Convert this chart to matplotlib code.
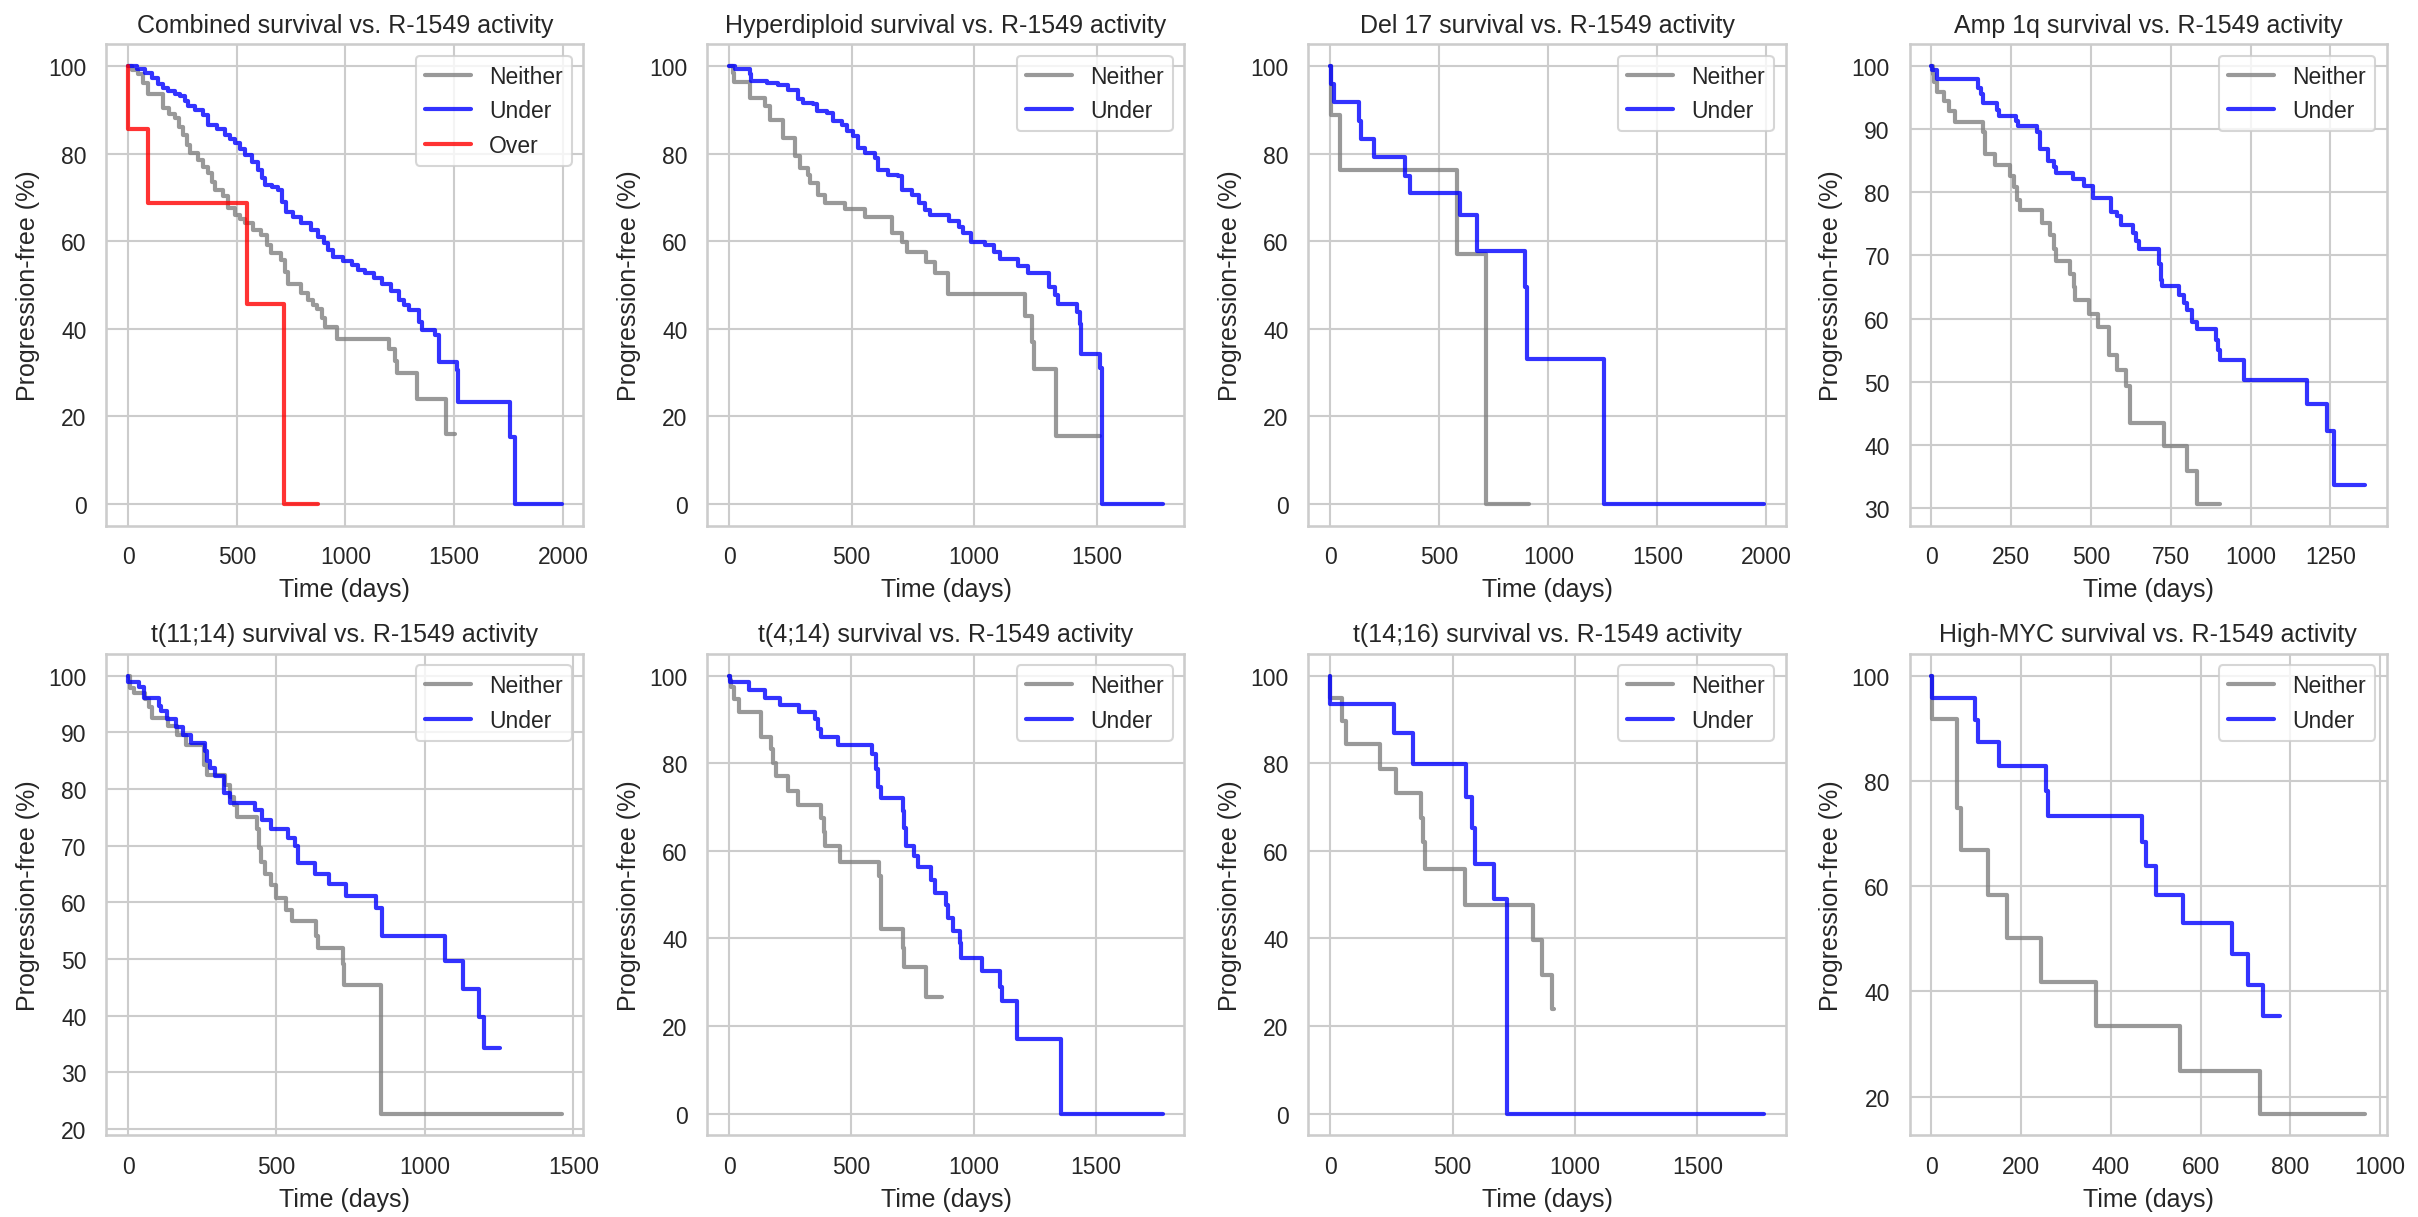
import matplotlib
matplotlib.use('Agg')
import matplotlib.pyplot as plt
import seaborn as sns

# Curvas de supervivencia (Kaplan-Meier): tiempo en días, % libre de progresión
combined_neither_t = [0, 20, 46, 70, 92, 161, 190, 215, 235, 253, 270, 284, 322, 345, 368, 385, 399, 437, 460, 490,
                      515, 537, 575, 613, 640, 659, 705, 720, 736, 797, 828, 850, 869, 890, 908, 961, 1199, 1230, 1237,
                      1329, 1463, 1506]
combined_neither_s = [100, 99, 98.1, 96, 93.5, 90.4, 89, 88.1, 86, 84.3, 82, 80.1, 78.6, 77, 75.5, 73.5, 71.7, 70.2,
                      67.5, 66, 65, 64.1, 62.5, 61.4, 59, 57.2, 55.7, 53, 50.3, 48.1, 46.5, 45.5, 44.6, 42.5, 40.4, 37.7,
                      35.4, 32.7, 29.8, 23.9, 15.9, 15.9]
combined_under_t = [0, 40, 77, 110, 138, 160, 184, 215, 238, 260, 276, 310, 345, 368, 410, 445, 470, 491, 515, 537,
                    570, 598, 615, 629, 660, 690, 710, 728, 760, 797, 840, 874, 900, 920, 945, 990, 1030, 1060, 1091,
                    1130, 1168, 1210, 1245, 1270, 1291, 1337, 1352, 1413, 1432, 1513, 1518, 1758, 1779, 1995]
combined_under_s = [100, 99.2, 98.5, 97.2, 95.8, 95, 94.3, 93.5, 93.1, 92, 90.8, 90, 88.9, 86.6, 85.5, 84.3, 83.3,
                    82.4, 81, 79.7, 78, 76.3, 74.5, 72.9, 72.3, 71.7, 69, 66.7, 65.5, 64.1, 62.5, 61, 59.5, 58, 56.4,
                    55.5, 54.5, 53.5, 52.6, 51.5, 50.3, 48.5, 46.5, 45.3, 44.2, 41.5, 39.6, 38.5, 32.4, 30.5, 23.2,
                    15.2, 0, 0]
combined_over_t = [0, 1, 93, 548, 717, 873]
combined_over_s = [100, 85.7, 68.6, 45.7, 0, 0]

hyper_neither_t = [0, 16, 20, 84, 146, 166, 221, 268, 289, 323, 330, 364, 391, 473, 555, 664, 704, 725, 804, 842,
                   893, 1206, 1237, 1243, 1333, 1513]
hyper_neither_s = [100, 98.5, 96.3, 92.7, 90.8, 87.6, 83.6, 79.4, 76.7, 75.2, 73.2, 70.6, 68.7, 67.3, 65.6, 61.8,
                   59.9, 57.6, 55.3, 52.8, 47.9, 43, 36.9, 30.8, 15.5, 15.5]
hyper_under_t = [0, 23, 84, 91, 153, 200, 241, 282, 302, 343, 357, 398, 425, 459, 480, 507, 527, 555, 595, 609, 650,
                 691, 704, 745, 773, 800, 820, 899, 940, 954, 988, 1043, 1083, 1104, 1179, 1220, 1305, 1329, 1343,
                 1418, 1431, 1438, 1513, 1520, 1770]
hyper_under_s = [100, 99.2, 98.1, 96.6, 96.2, 95.6, 94.6, 92.4, 91.6, 91.2, 89.7, 89.3, 87.4, 86.6, 85.1, 83.9, 81.3,
                 80.1, 79, 76.3, 75.2, 74.8, 71.7, 70.6, 68.7, 67.1, 66, 64.5, 63.3, 61.9, 59.9, 59.1, 57.6, 55.8,
                 54.3, 52.8, 49.5, 47.6, 45.7, 43.8, 41.1, 34.3, 31.1, 0, 0]

del17_neither_t = [0, 2, 44, 580, 716, 913]
del17_neither_s = [100, 88.9, 76.2, 57.1, 0, 0]
del17_under_t = [0, 2, 18, 133, 141, 203, 341, 368, 597, 675, 892, 901, 1255, 1988]
del17_under_s = [100, 95.8, 91.7, 87.4, 83.3, 79.3, 74.9, 71, 65.9, 57.7, 49.6, 33.1, 0, 0]

amp1q_neither_t = [0, 4, 10, 19, 40, 56, 74, 161, 167, 201, 248, 260, 270, 277, 347, 372, 384, 391, 434, 446, 449,
                   494, 521, 556, 583, 610, 624, 728, 800, 831, 905]
amp1q_neither_s = [100, 98.7, 97.4, 95.9, 94.4, 92.8, 91.1, 89.5, 86.1, 84.4, 82.6, 80.8, 78.8, 77.2, 75.1, 73.3,
                   71.1, 69.1, 67.1, 65, 63, 60.7, 58.7, 54.3, 51.8, 49.4, 43.5, 39.8, 35.9, 30.7, 30.7]
amp1q_under_t = [0, 3, 19, 145, 155, 161, 205, 211, 267, 273, 332, 341, 366, 384, 391, 444, 477, 506, 562, 583, 595,
                 632, 642, 651, 713, 719, 722, 775, 791, 800, 818, 831, 893, 899, 903, 980, 1178, 1240, 1262, 1358]
amp1q_under_s = [100, 99.4, 97.9, 96.5, 95.6, 94.1, 93.1, 92.1, 91.3, 90.5, 89.5, 86.8, 84.9, 84, 83, 82.1, 81, 79.1,
                 76.9, 76.3, 74.8, 73.6, 72.3, 71.1, 68.7, 66.2, 65.1, 63.8, 62.5, 61.3, 59.5, 58.4, 56.7, 55.1, 53.4,
                 50.3, 46.5, 42.2, 33.7, 33.7]

t1114_neither_t = [0, 6, 19, 58, 71, 82, 136, 166, 195, 256, 266, 325, 344, 357, 366, 435, 442, 448, 461, 481, 500,
                   533, 552, 634, 639, 724, 727, 851, 1461]
t1114_neither_s = [100, 97.9, 97, 95.8, 94.4, 92.6, 91.2, 89.5, 87.7, 84.2, 82.5, 80.7, 78.6, 77.2, 75.1, 73, 69.5,
                   67.1, 65, 63.1, 60.8, 58.7, 56.6, 54.1, 51.9, 49.1, 45.4, 22.7, 22.7]
t1114_under_t = [0, 1, 36, 55, 104, 110, 132, 162, 184, 212, 260, 266, 275, 292, 322, 344, 429, 452, 481, 539, 561,
                 572, 630, 678, 734, 834, 855, 857, 1068, 1130, 1182, 1198, 1253]
t1114_under_s = [100, 98.9, 98, 96.1, 94.7, 93.7, 92.3, 90.9, 89.5, 88.1, 86.7, 84.9, 83.7, 82.3, 79.3, 77.6, 76.2,
                 74.6, 73, 71.3, 69.9, 66.9, 65, 63.2, 61.1, 59, 56.9, 54.1, 49.6, 44.7, 39.8, 34.2, 34.2]

t414_neither_t = [0, 2, 8, 19, 39, 129, 170, 181, 192, 241, 281, 375, 386, 394, 452, 611, 622, 712, 717, 804, 871]
t414_neither_s = [100, 99.1, 97.3, 94.6, 91.8, 85.9, 83.2, 80, 77.1, 73.7, 70.5, 67.4, 64.2, 61, 57.4, 54.2, 42.2,
                  37.9, 33.5, 26.6, 26.6]
t414_under_t = [0, 3, 82, 145, 208, 284, 351, 362, 375, 444, 583, 599, 607, 622, 709, 717, 722, 756, 772, 824, 843,
                887, 895, 917, 942, 949, 1032, 1106, 1116, 1177, 1355, 1773]
t414_under_s = [100, 98.6, 96.8, 95, 93.4, 91.6, 90, 87.9, 86.1, 84.1, 82.1, 78.7, 74.6, 72.1, 69.2, 65.1, 61, 58.7,
                56.2, 53.3, 50.4, 47.7, 44.7, 41.7, 39, 35.6, 32.5, 29, 25.7, 17, 0, 0]

t1416_neither_t = [0, 1, 50, 63, 205, 268, 370, 381, 389, 551, 829, 866, 905, 916]
t1416_neither_s = [100, 94.8, 89.6, 84.3, 78.7, 73.1, 67.5, 61.9, 55.8, 47.7, 39.7, 31.7, 23.8, 23.8]
t1416_under_t = [0, 1, 260, 338, 556, 579, 590, 669, 721, 1771]
t1416_under_s = [100, 93.5, 87, 79.9, 72.3, 65.3, 57.1, 49, 0, 0]

myc_neither_t = [0, 1, 57, 66, 126, 169, 245, 366, 554, 733, 966]
myc_neither_s = [100, 91.7, 74.9, 66.8, 58.3, 50.2, 41.7, 33.4, 24.9, 16.8, 16.8]
myc_under_t = [0, 1, 97, 104, 150, 256, 261, 470, 478, 500, 560, 669, 706, 739, 777]
myc_under_s = [100, 95.8, 91.5, 87.4, 82.9, 78.1, 73.4, 68.3, 63.8, 58.3, 53, 47.2, 41.3, 35.3, 35.3]

# (titulo, [(etiqueta, tiempos, supervivencia, color), ...])
panels = [
    ('Combined', [('Neither', combined_neither_t, combined_neither_s, 'gray'),
                  ('Under', combined_under_t, combined_under_s, 'blue'),
                  ('Over', combined_over_t, combined_over_s, 'red')]),
    ('Hyperdiploid', [('Neither', hyper_neither_t, hyper_neither_s, 'gray'),
                      ('Under', hyper_under_t, hyper_under_s, 'blue')]),
    ('Del 17', [('Neither', del17_neither_t, del17_neither_s, 'gray'),
                ('Under', del17_under_t, del17_under_s, 'blue')]),
    ('Amp 1q', [('Neither', amp1q_neither_t, amp1q_neither_s, 'gray'),
                ('Under', amp1q_under_t, amp1q_under_s, 'blue')]),
    ('t(11;14)', [('Neither', t1114_neither_t, t1114_neither_s, 'gray'),
                  ('Under', t1114_under_t, t1114_under_s, 'blue')]),
    ('t(4;14)', [('Neither', t414_neither_t, t414_neither_s, 'gray'),
                 ('Under', t414_under_t, t414_under_s, 'blue')]),
    ('t(14;16)', [('Neither', t1416_neither_t, t1416_neither_s, 'gray'),
                  ('Under', t1416_under_t, t1416_under_s, 'blue')]),
    ('High-MYC', [('Neither', myc_neither_t, myc_neither_s, 'gray'),
                  ('Under', myc_under_t, myc_under_s, 'blue')]),
]

sns.set_theme(style='whitegrid')
plt.rcParams['font.family'] = ['Liberation Sans', 'DejaVu Sans']

fig, axes = plt.subplots(2, 4, figsize=(16.12, 8.12), dpi=150)
fig.subplots_adjust(left=0.044, right=0.987, top=0.963, bottom=0.067, wspace=0.26, hspace=0.266)

for ax, (name, curves) in zip(axes.flat, panels):
    for label, t, s, color in curves:
        ax.step(t, s, where='post', color=color, alpha=0.8, linewidth=2, label=label)
    ax.set_title(name + ' survival vs. R-1549 activity')
    ax.set_xlabel('Time (days)')
    ax.set_ylabel('Progression-free (%)')
    ax.legend(loc='upper right')

fig.savefig('out.png', dpi=150)
